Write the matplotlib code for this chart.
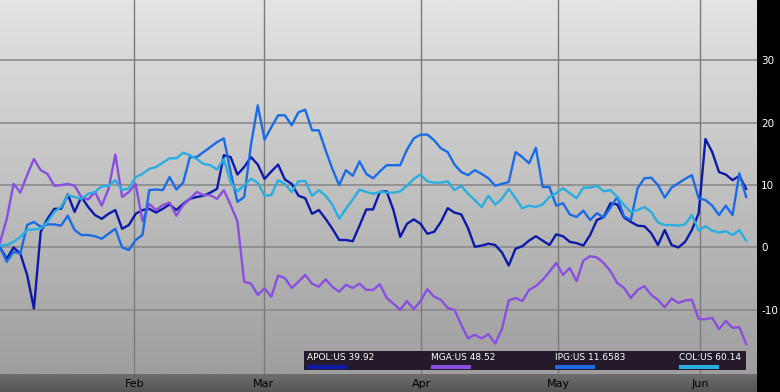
import numpy as np
import matplotlib
matplotlib.use('Agg')
import matplotlib.pyplot as plt
from matplotlib.patches import Rectangle

# percent change series, one value per trading day
apol = [0, -1.8, 0, -1, -4.4, -9.8, 2.5, 4.6, 6.2, 6.2, 8.5, 5.7, 8.1, 6.5, 5.2, 4.6, 5.4, 6.0, 3.0, 3.6,
        5.4, 6.0, 6.2, 5.6, 6.2, 6.9, 6.0, 7.0, 7.8, 8.1, 8.3, 8.8, 9.4, 14.8, 14.5, 11.7, 12.9, 14.5,
        13.3, 11.0, 12.2, 13.3, 10.9, 10.2, 8.3, 7.9, 5.4, 6.0, 4.6, 3.0, 1.2, 1.2, 1.0, 3.5, 6.1, 6.1,
        8.9, 9.0, 6.0, 1.7, 3.8, 4.5, 3.8, 2.2, 2.5, 4.1, 6.3, 5.6, 5.3, 3.1, 0.1, 0.3, 0.6, 0.4,
        -0.8, -2.9, -0.2, 0.2, 1.1, 1.8, 1.1, 0.4, 2.1, 1.8, 0.9, 0.7, 0.3, 2.0, 4.4, 4.9, 7.1, 6.9, 4.8, 4.1,
        3.5, 3.4, 2.3, 0.4, 2.8, 0.4, 0.0, 0.9, 2.8, 5.5, 17.4, 15.3, 12.1, 11.7, 10.8, 11.5, 9.4]
mga = [0.8, 4.6, 10.2, 8.8, 11.6, 14.2, 12.4, 11.8, 9.9, 10.0, 10.2, 9.9, 8.1, 7.7, 8.9, 6.7, 9.4, 14.9, 8.1, 8.9,
       10.2, 4.2, 7.0, 6.0, 6.8, 7.2, 5.1, 6.8, 7.8, 8.9, 8.4, 8.4, 7.8, 9.2, 6.8, 4.2, -5.5, -5.8,
       -7.6, -6.6, -7.9, -4.5, -4.9, -6.5, -5.5, -4.4, -5.8, -6.3, -5.1, -6.3, -7.1, -6.0, -6.5, -5.8, -6.8, -6.8,
       -5.9, -8.1, -9.0, -10.0, -8.6, -9.9, -8.6, -6.7, -7.9, -8.4, -9.7, -10.0, -12.4, -14.6, -14.0, -14.6, -13.9, -15.4,
       -13.1, -8.5, -8.1, -8.6, -6.8, -6.2, -5.2, -3.9, -2.5, -4.4, -3.3, -5.4, -2.1, -1.4, -1.6, -2.5, -3.8, -5.7, -6.5, -8.1,
       -6.8, -6.2, -7.6, -8.4, -9.6, -8.2, -8.9, -8.5, -8.4, -11.5, -11.5, -11.3, -13.1, -11.8, -12.9, -12.8, -15.5]
ipg = [0, -2.3, -0.7, -1, 3.6, 4.1, 3.3, 3.7, 3.7, 3.5, 5.1, 2.8, 2.0, 2.0, 1.8, 1.4, 2.2, 3.0, 0.0, -0.4,
       1.2, 2.0, 9.2, 9.3, 9.2, 11.3, 9.3, 10.4, 14.5, 14.5, 15.3, 16.1, 16.9, 17.5, 12.1, 7.3, 8.1, 16.5,
       22.8, 17.3, 19.3, 21.2, 21.2, 19.6, 21.7, 22.1, 18.8, 18.8, 15.6, 12.6, 10.0, 12.4, 11.5, 13.8, 11.8, 11.1,
       12.2, 13.2, 13.2, 13.2, 15.7, 17.5, 18.1, 18.1, 17.2, 15.9, 15.3, 13.3, 12.1, 11.6, 12.4, 11.8, 11.1, 9.9,
       10.2, 10.5, 15.3, 14.5, 13.5, 16.0, 9.7, 9.7, 6.7, 7.1, 5.3, 4.9, 5.9, 4.4, 5.5, 4.8, 6.4, 8.1, 5.0, 4.4,
       9.5, 11.1, 11.2, 10.0, 8.0, 9.6, 10.3, 11.0, 11.6, 7.9, 7.6, 6.7, 5.2, 6.7, 5.2, 11.9, 8.1]
col = [0.3, 0.4, 0.9, 1.7, 2.8, 2.9, 3.0, 4.1, 5.7, 6.5, 8.4, 8.1, 7.8, 8.6, 8.9, 9.8, 9.9, 10.8, 9.2, 9.5,
       11.3, 11.8, 12.6, 12.9, 13.6, 14.3, 14.3, 15.2, 14.8, 14.2, 13.4, 13.2, 12.5, 14.2, 10.5, 9.0, 10.0, 11.0,
       10.4, 8.3, 8.4, 10.8, 10.2, 8.9, 10.6, 10.7, 8.3, 9.2, 8.3, 6.9, 4.6, 6.2, 7.7, 9.3, 8.9, 8.6,
       8.9, 8.8, 8.8, 9.0, 9.9, 11.0, 11.7, 10.6, 10.4, 10.4, 10.6, 9.2, 9.9, 8.6, 7.6, 6.5, 8.3, 6.9,
       7.8, 9.4, 7.9, 6.3, 6.7, 6.5, 6.9, 8.1, 8.7, 9.5, 8.7, 7.9, 9.6, 9.6, 9.9, 9.0, 9.2, 8.1, 6.8, 5.7,
       6.0, 6.5, 5.7, 4.0, 3.6, 3.6, 3.5, 3.7, 5.2, 2.7, 3.4, 2.7, 2.4, 2.6, 2.0, 2.8, 1.1]

names = ['APOL:US 39.92', 'MGA:US 48.52', 'IPG:US 11.6583', 'COL:US 60.14']
colors = ['#0b1aa8', '#8a4ee0', '#1a6ce6', '#28aee0']
month_labels = ['Feb', 'Mar', 'Apr', 'May', 'Jun']
month_pos = [19.8, 38.9, 62.1, 82.3, 103.2]
y_ticks = [-10, 0, 10, 20, 30]

fig = plt.figure(figsize=(7.8, 3.92), dpi=100, facecolor='black')
W, H = 780.0, 392.0
ax = fig.add_axes([0, 18 / H, 757 / W, 374 / H])
ax.set_xlim(0, 111.6)
ax.set_ylim(-20.3, 39.7)

# grey gradient background
grad = np.linspace(0, 1, 256).reshape(-1, 1)
ax.imshow(grad, cmap=matplotlib.colors.LinearSegmentedColormap.from_list('g', ['#e4e4e4', '#9e9e9e']),
          extent=[0, 111.6, -20.3, 39.7], aspect='auto', zorder=0)

for y in y_ticks:
    ax.axhline(y, color='#8a8a8a', lw=1.2, zorder=1)
for x in month_pos:
    ax.axvline(x, color='#7a7a7a', lw=1.0, zorder=1)

for series, c in zip([apol, mga, ipg, col], colors):
    ax.plot(np.arange(len(series)), series, color=c, lw=1.7, zorder=3)

ax.set_xticks([])
ax.yaxis.tick_right()
ax.set_yticks(y_ticks)
ax.set_yticklabels([str(v) for v in y_ticks], color='white', fontsize=7.5)
ax.tick_params(axis='y', length=0, pad=3)
for s in ax.spines.values():
    s.set_visible(False)

# legend box
ax.add_patch(Rectangle((304 / 757, (374 - 370) / 374), 442 / 757, 19 / 374, transform=ax.transAxes,
                       facecolor='#241a2b', edgecolor='none', zorder=5))
leg_x = [307, 431, 555, 679]
for name, c, lx in zip(names, colors, leg_x):
    ax.text(lx / 757, (374 - 358) / 374, name, transform=ax.transAxes, color='white', fontsize=6.5,
            va='center', ha='left', zorder=6)
    ax.add_patch(Rectangle((lx / 757, (374 - 369) / 374), 40 / 757, 4 / 374, transform=ax.transAxes,
                           facecolor=c, edgecolor='none', zorder=6))

# bottom date strip
bx = fig.add_axes([0, 0, 757 / W, 18 / H])
bx.imshow(grad, cmap=matplotlib.colors.LinearSegmentedColormap.from_list('b', ['#6e6e6e', '#555555']),
          extent=[0, 111.6, 0, 1], aspect='auto')
bx.set_xlim(0, 111.6)
bx.set_ylim(0, 1)
bx.axis('off')
for lab, x in zip(month_labels, month_pos):
    bx.text(x, 0.45, lab, color='black', fontsize=8, ha='center', va='center')

fig.savefig('out.png', dpi=100, facecolor='black')
